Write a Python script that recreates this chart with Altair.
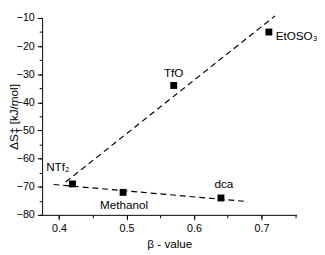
import altair as alt
import pandas as pd

# data points
labels = ["EtOSO₃", "TfO", "NTf₂", "Methanol", "dca"]
beta = [0.711, 0.57, 0.42, 0.495, 0.64]
dS = [-15, -34, -69, -72, -74]

# fit lines (endpoints)
fit1_x = [0.41, 0.72]
fit1_y = [-68.3, -9.3]
fit2_x = [0.392, 0.68]
fit2_y = [-69.2, -75.3]

x_major = [0.4, 0.5, 0.6, 0.7]
x_minor = [0.4, 0.45, 0.5, 0.55, 0.6, 0.65, 0.7, 0.75]
y_major = [-80, -70, -60, -50, -40, -30, -20, -10]
y_minor = [-80, -75, -70, -65, -60, -55, -50, -45, -40, -35, -30, -25, -20, -15, -10]

pts = pd.DataFrame({"label": labels, "beta": beta, "dS": dS})
lines = pd.DataFrame({
    "beta": fit1_x + fit2_x,
    "dS": fit1_y + fit2_y,
    "fit": ["a", "a", "b", "b"],
})

FONT = "Liberation Sans"
xs = alt.Scale(domain=[0.375, 0.752], nice=False, zero=False)
ys = alt.Scale(domain=[-80, -10], nice=False, zero=False)

major_x = alt.Axis(values=x_major, format=".1f", tickSize=5, title="β - value", orient="bottom",
                   titlePadding=6, labelPadding=3, grid=False)
major_y = alt.Axis(values=y_major, format="d", tickSize=5, title="ΔS‡ [kJ/mol]", orient="left",
                   titleX=-29.5, titleBaseline="middle", labelPadding=3, grid=False)
minor_x = alt.Axis(values=x_minor, tickSize=3, labels=False, title=None, domain=False,
                   grid=False, orient="bottom")
minor_y = alt.Axis(values=y_minor, tickSize=3, labels=False, title=None, domain=False,
                   grid=False, orient="left")

minor = alt.Chart(pts).mark_point(opacity=0).encode(
    x=alt.X("beta:Q", scale=xs, axis=minor_x),
    y=alt.Y("dS:Q", scale=ys, axis=minor_y),
)

fits = alt.Chart(lines).mark_line(color="black", strokeDash=[6, 4], strokeWidth=1.2).encode(
    x=alt.X("beta:Q", scale=xs, axis=major_x),
    y=alt.Y("dS:Q", scale=ys, axis=major_y),
    detail="fit:N",
)

points = alt.Chart(pts).mark_square(size=50, color="black", opacity=1).encode(
    x=alt.X("beta:Q", scale=xs, axis=None),
    y=alt.Y("dS:Q", scale=ys, axis=None),
)

def lab(name, dx, dy, align="center"):
    return alt.Chart(pts).transform_filter(alt.datum.label == name).mark_text(
        font=FONT, fontSize=12, color="black", dx=dx, dy=dy, align=align, baseline="middle"
    ).encode(
        x=alt.X("beta:Q", scale=xs, axis=None),
        y=alt.Y("dS:Q", scale=ys, axis=None),
        text="label:N",
    )

texts = [
    lab("EtOSO₃", 7, 4, "left"),
    lab("TfO", 0, -13),
    lab("NTf₂", -15, -17),
    lab("Methanol", 1, 13),
    lab("dca", 3, -14),
]

chart = alt.layer(minor, fits, points, *texts).resolve_axis(
    x="independent", y="independent"
).properties(
    width=261, height=202,
    autosize=alt.AutoSizeParams(type="none"),
    padding={"left": 35, "top": 7, "right": 21, "bottom": 40},
).configure_view(stroke=None).configure_axis(
    labelFont=FONT, titleFont=FONT, labelFontSize=11, titleFontSize=12,
    titleFontWeight="normal", labelColor="black", titleColor="black",
    domainColor="black", tickColor="black", domainWidth=1, tickWidth=1,
)

chart.save("out.html", embed_options={"renderer": "svg", "actions": False})
